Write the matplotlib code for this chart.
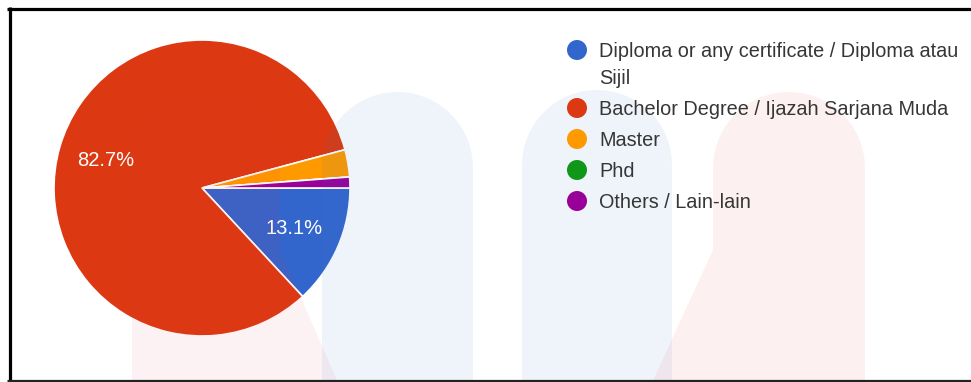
import textwrap
import matplotlib
matplotlib.use("Agg")
import matplotlib.pyplot as plt
from matplotlib.patches import Circle, Polygon
import numpy as np

# Antworten je Abschluss
kategorien = [
    "Diploma or any certificate / Diploma atau Sijil",
    "Bachelor Degree / Ijazah Sarjana Muda",
    "Master",
    "Phd",
    "Others / Lain-lain",
]
anzahl = [22, 139, 5, 0, 2]
farben = ["#3366cc", "#dc3912", "#ff9900", "#109618", "#990099"]

plt.rcParams["font.family"] = ["Liberation Sans", "DejaVu Sans"]

B, H = 971, 382
fig = plt.figure(figsize=(B / 100, H / 100), dpi=100)
fig.patch.set_facecolor("white")

# Kreisdiagramm: Mittelpunkt (202, 188), Radius 148 Pixel
mx, my, r = 202, 188, 148
ax = fig.add_axes([(mx - r) / B, (H - my - r) / H, 2 * r / B, 2 * r / H])


def prozent(p):
    return f"{p:.1f}%" if p > 5 else ""


wedges, texte, autotexte = ax.pie(
    anzahl, colors=farben, startangle=0, counterclock=False,
    autopct=prozent, pctdistance=0.68,
    wedgeprops=dict(edgecolor="white", linewidth=1.2),
    textprops=dict(color="white", fontsize=14.5),
)
ax.set_xlim(-1, 1)
ax.set_ylim(-1, 1)
ax.set_zorder(1)

# Ebene in Pixelkoordinaten fuer Wasserzeichen, Legende und Rahmen
ov = fig.add_axes([0, 0, 1, 1])
ov.set_xlim(0, B)
ov.set_ylim(H, 0)
ov.axis("off")
ov.set_zorder(2)
ov.patch.set_alpha(0)


def saeule(x0, x1, oben, links=None, rechts=None):
    # Saeule mit runder Kappe, unten optional schraeg auslaufend
    rad = (x1 - x0) / 2
    t = np.linspace(np.pi, 0, 40)
    bogen = np.column_stack([x0 + rad + rad * np.cos(t), oben + rad - rad * np.sin(t)])
    start = [(x0, H + 5)] if links is None else [links, (x0, 250)]
    ende = [(x1, H + 5)] if rechts is None else [(x1, 250), rechts]
    return start + list(map(tuple, bogen)) + ende


wasser = [
    (saeule(132, 280, 95, rechts=(340, H + 5)), "#e8303a", 0.06),
    (saeule(322, 473, 92), "#3b78c0", 0.08),
    (saeule(522, 672, 90), "#3b78c0", 0.08),
    (saeule(713, 865, 92, links=(650, H + 5)), "#e8303a", 0.07),
]
for pkte, farbe, alpha in wasser:
    ov.add_patch(Polygon(pkte, closed=True, facecolor=farbe, alpha=alpha,
                         edgecolor="none", zorder=1))

# Legende
y = 50
for name, farbe in zip(kategorien, farben):
    zeilen = textwrap.wrap(name, 42)
    ov.add_patch(Circle((577, y), 10, facecolor=farbe, edgecolor="none", zorder=3))
    for i, zeile in enumerate(zeilen):
        ov.text(599, y + 7 + 27 * i, zeile, fontsize=14.3, color="#363636",
                va="baseline", ha="left", zorder=3)
    y += 27 * (len(zeilen) - 1) + 31

# Rahmen
lw = 3.2 * 0.72
ov.plot([7, B + 2], [8.5, 8.5], color="black", lw=lw, solid_capstyle="butt")
ov.plot([9.5, 9.5], [7, H + 2], color="black", lw=lw, solid_capstyle="butt")
ov.plot([7, B + 2], [380.5, 380.5], color="#222222", lw=lw, solid_capstyle="butt")

fig.savefig("out.png", dpi=100)
